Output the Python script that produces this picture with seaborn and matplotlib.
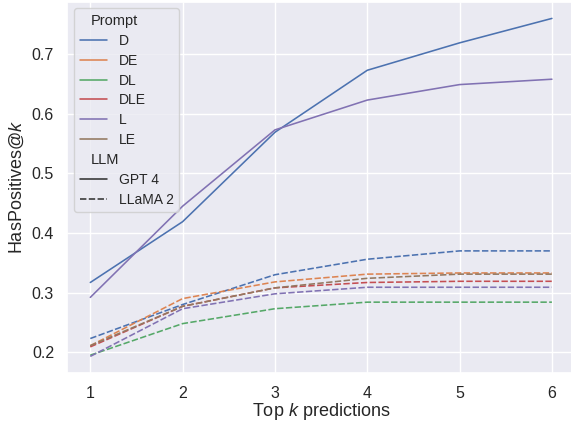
import matplotlib
matplotlib.use("Agg")
import matplotlib.pyplot as plt
import matplotlib.offsetbox as moff
import seaborn as sns
import pandas as pd

k_values = [1, 2, 3, 4, 5, 6]
prompts = ["D", "DE", "DL", "DLE", "L", "LE"]
llms = ["GPT 4", "LLaMA 2"]

gpt4_D = [0.317, 0.419, 0.569, 0.673, 0.719, 0.760]
gpt4_L = [0.292, 0.445, 0.573, 0.623, 0.649, 0.658]

llama_D = [0.223, 0.280, 0.330, 0.356, 0.370, 0.370]
llama_DE = [0.211, 0.290, 0.318, 0.331, 0.333, 0.333]
llama_DL = [0.195, 0.248, 0.273, 0.284, 0.284, 0.284]
llama_DLE = [0.209, 0.277, 0.308, 0.317, 0.319, 0.319]
llama_L = [0.193, 0.273, 0.298, 0.309, 0.309, 0.309]
llama_LE = [0.211, 0.277, 0.308, 0.324, 0.331, 0.331]

rows = []
for p, vals in [("D", gpt4_D), ("L", gpt4_L)]:
    for k, v in zip(k_values, vals):
        rows.append({"k": k, "Prompt": p, "LLM": "GPT 4", "val": v})
for p, vals in [("D", llama_D), ("DE", llama_DE), ("DL", llama_DL),
                ("DLE", llama_DLE), ("L", llama_L), ("LE", llama_LE)]:
    for k, v in zip(k_values, vals):
        rows.append({"k": k, "Prompt": p, "LLM": "LLaMA 2", "val": v})
df = pd.DataFrame(rows)

sns.set_theme(style="darkgrid")
plt.rcParams["font.family"] = ["Liberation Sans", "DejaVu Sans"]
plt.rcParams["mathtext.fontset"] = "custom"
plt.rcParams["mathtext.it"] = "Liberation Sans:italic"
plt.rcParams["mathtext.rm"] = "Liberation Sans"
plt.rcParams["xtick.labelsize"] = 11.5
plt.rcParams["ytick.labelsize"] = 11.5
plt.rcParams["axes.labelsize"] = 13
plt.rcParams["legend.fontsize"] = 10
plt.rcParams["legend.title_fontsize"] = 10.5
plt.rcParams["legend.labelspacing"] = 0.42

fig = plt.figure(figsize=(5.71, 4.21), dpi=100)
ax = fig.add_axes([0.1177, 0.1133, 0.8893, 0.8831])
sns.lineplot(data=df, x="k", y="val", hue="Prompt", style="LLM",
             hue_order=prompts, style_order=llms,
             ax=ax, linewidth=1.15)
ax.set_xlabel("Top $k$ predictions", labelpad=0)
ax.set_ylabel("HasPositives@$k$")
leg = ax.get_legend()
leg.set_loc("upper left")

# make subtitle entries ("Prompt", "LLM") flush left like titles
vp = leg.findobj(moff.VPacker)[0]
for hp in vp.get_children():
    kids = hp.get_children()
    if len(kids) != 2:
        continue
    draw_area, text_area = kids
    texts = [t for t in text_area.get_children() if hasattr(t, "get_text")]
    if any(t.get_text() in ("Prompt", "LLM") for t in texts):
        draw_area.set_width(0)
        for t in texts:
            t.set_fontsize(10.5)

fig.savefig("out.png", dpi=100)
